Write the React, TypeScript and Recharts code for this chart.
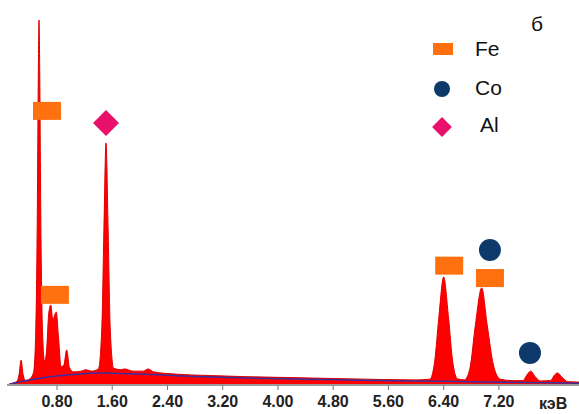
import { Area, ComposedChart, Line, Scatter, XAxis, YAxis } from 'recharts';

// spectrum (keV, counts in arbitrary units, tallest peak = 1000)
const SPEC_KEV = [
  0.08, 0.15, 0.22, 0.25, 0.28, 0.31, 0.34, 0.4, 0.46, 0.49, 0.515, 0.53, 0.54, 0.55, 0.565, 0.59, 0.62,
  0.65, 0.68, 0.71, 0.74, 0.76, 0.79, 0.82, 0.86, 0.9, 0.94, 0.98, 1.04, 1.15, 1.22, 1.3, 1.4, 1.45, 1.48,
  1.51, 1.54, 1.57, 1.62, 1.72, 1.78, 1.9, 2.05, 2.12, 2.2, 2.5, 3.0, 3.5, 4.0, 4.5, 5.0, 5.5, 6.0, 6.2,
  6.27, 6.33, 6.4, 6.47, 6.53, 6.6, 6.7, 6.78, 6.86, 6.95, 7.03, 7.12, 7.22, 7.4, 7.55, 7.6, 7.66, 7.72,
  7.8, 7.95, 8.0, 8.05, 8.11, 8.2, 8.36,
];
const SPEC_COUNTS = [
  0, 5, 10, 28, 68, 28, 12, 16, 34, 130, 470, 860, 1000, 860, 470, 150, 65,
  95, 195, 219, 178, 188, 200, 135, 50, 55, 96, 48, 36, 38, 42, 38, 44, 160, 430,
  663, 430, 160, 46, 42, 44, 38, 38, 44, 36, 30, 26, 23, 21, 19, 17, 15, 14, 16,
  65, 185, 296, 185, 65, 17, 14, 45, 165, 266, 165, 55, 16, 12, 12, 26, 38, 24,
  11, 12, 26, 33, 22, 9, 8,
];

// fitted background (blue line)
const BG_KEV = [0.08, 0.3, 0.6, 1.0, 1.4, 2.0, 2.8, 3.6, 4.4, 5.2, 6.0, 6.8, 7.6, 8.36];
const BG_COUNTS = [0, 10, 20, 28, 33, 30, 23, 19, 16, 13, 11, 9, 7, 5];

// peak markers
const FE_KEV = [0.655, 0.77, 6.48, 7.07];
const FE_Y = [751, 247, 327, 293];
const CO_KEV = [7.07, 7.65];
const CO_Y = [370, 88];
const AL_KEV = [1.51];
const AL_Y = [718];

const TICKS = [0.8, 1.6, 2.4, 3.2, 4.0, 4.8, 5.6, 6.4, 7.2];

const RED = '#ff0000';
const ORANGE = '#ff700f';
const NAVY = '#0d3a6b';
const PINK = '#e8106a';
const FONT = '"Liberation Sans", Arial, sans-serif';

const pts = (xs: number[], ys: number[]) => xs.map((x, i) => ({ x, y: ys[i] }));
const spectrum = pts(SPEC_KEV, SPEC_COUNTS);
const background = pts(BG_KEV, BG_COUNTS);
const fe = pts(FE_KEV, FE_Y);
const co = pts(CO_KEV, CO_Y);
const al = pts(AL_KEV, AL_Y);

const FeMark = (p: any) => <rect x={p.cx - 14} y={p.cy - 9} width={28} height={18} fill={ORANGE} />;
const CoMark = (p: any) => <circle cx={p.cx} cy={p.cy} r={11} fill={NAVY} />;
const AlMark = (p: any) => (
  <polygon
    points={`${p.cx},${p.cy - 13} ${p.cx + 13},${p.cy} ${p.cx},${p.cy + 13} ${p.cx - 13},${p.cy}`}
    fill={PINK}
  />
);

const legendText = { position: 'absolute' as const, fontFamily: FONT, fontSize: 21, color: '#111', lineHeight: '22px' };

export default function App() {
  return (
    <div style={{ position: 'absolute', left: 0, top: 0, width: 579, height: 414, background: '#fff' }}>
      <ComposedChart width={579} height={414} margin={{ top: 20, right: 0, bottom: 0, left: 7 }}>
        <XAxis
          type="number"
          dataKey="x"
          domain={[0.076, 8.36]}
          allowDataOverflow
          ticks={TICKS}
          interval={0}
          tickFormatter={(v: number) => v.toFixed(2)}
          height={29}
          tickSize={5}
          tickMargin={6}
          axisLine={{ stroke: '#9b9b9b', strokeWidth: 2 }}
          tickLine={{ stroke: '#777' }}
          tick={{ fontSize: 16, fontWeight: 700, fill: '#222', fontFamily: FONT }}
        />
        <YAxis type="number" dataKey="y" hide domain={[0, 1000]} allowDataOverflow />
        <Area
          data={spectrum}
          type="monotone"
          dataKey="y"
          stroke="#e00000"
          strokeWidth={1}
          fill={RED}
          fillOpacity={1}
          isAnimationActive={false}
        />
        <Line
          data={background}
          type="monotone"
          dataKey="y"
          stroke="#3b2f9e"
          strokeWidth={1.5}
          dot={false}
          isAnimationActive={false}
        />
        <Scatter data={fe} dataKey="y" shape={FeMark} isAnimationActive={false} />
        <Scatter data={co} dataKey="y" shape={CoMark} isAnimationActive={false} />
        <Scatter data={al} dataKey="y" shape={AlMark} isAnimationActive={false} />
      </ComposedChart>

      <div style={{ ...legendText, left: 531, top: 13 }}>б</div>
      <div style={{ position: 'absolute', left: 433, top: 43, width: 20, height: 12, background: ORANGE }} />
      <div style={{ ...legendText, left: 475, top: 38 }}>Fe</div>
      <div style={{ position: 'absolute', left: 434, top: 81, width: 16, height: 16, borderRadius: 8, background: NAVY }} />
      <div style={{ ...legendText, left: 475, top: 77 }}>Co</div>
      <div
        style={{
          position: 'absolute',
          left: 435,
          top: 120,
          width: 14,
          height: 14,
          background: PINK,
          transform: 'rotate(45deg)',
        }}
      />
      <div style={{ ...legendText, left: 480, top: 114 }}>Al</div>

      <div style={{ position: 'absolute', left: 539, top: 395, fontFamily: FONT, fontSize: 16, fontWeight: 700, color: '#222' }}>
        кэВ
      </div>
    </div>
  );
}
